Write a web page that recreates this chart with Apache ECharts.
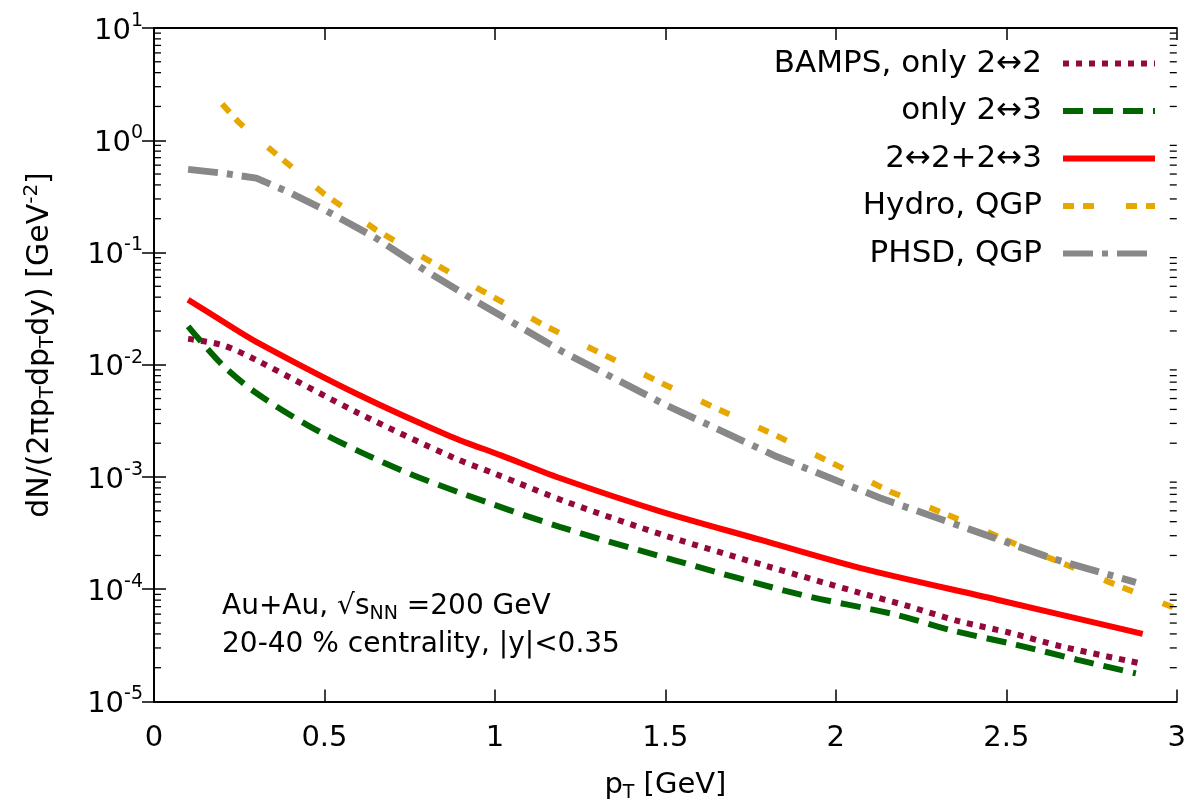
<!DOCTYPE html>
<html>
<head>
<meta charset="utf-8">
<script src="https://cdn.jsdelivr.net/npm/echarts@6/dist/echarts.min.js"></script>
<style>
  html, body { margin: 0; padding: 0; background: #fff; }
  #chart { width: 1189px; height: 808px; }
</style>
</head>
<body>
<div id="chart"></div>
<script>
{
    var dom = document.querySelector('#chart');
    var myChart = echarts.init(dom);

    // pT [GeV] and dN/(2pi pT dpT dy) values
    const ptBamps22 = [0.1, 0.2, 0.3, 0.6, 0.88, 1.0, 1.21, 1.5, 1.8, 2.07, 2.21, 2.36, 2.51, 2.66, 2.89];
    const dnBamps22 = [0.017, 0.015, 0.011, 0.0037, 0.00148, 0.00107, 6.0e-4, 3.0e-4, 1.6e-4, 9.3e-5, 7.1e-5, 5.2e-5, 4.1e-5, 3.1e-5, 2.2e-5];

    const ptOnly23 = [0.1, 0.2, 0.3, 0.45, 0.6, 0.75, 0.9, 1.19, 1.53, 1.9, 2.17, 2.34, 2.53, 2.71, 2.88];
    const dnOnly23 = [0.022, 0.010, 0.0056, 0.0029, 0.0017, 0.00107, 7.2e-4, 3.6e-4, 1.8e-4, 8.9e-5, 6.0e-5, 4.3e-5, 3.2e-5, 2.35e-5, 1.78e-5];

    const ptBoth = [0.1, 0.2, 0.3, 0.6, 0.87, 1.02, 1.19, 1.48, 1.78, 2.07, 2.47, 2.9];
    const dnBoth = [0.038, 0.0245, 0.016, 0.0054, 0.0023, 0.00155, 9.8e-4, 5.0e-4, 2.75e-4, 1.55e-4, 8.1e-5, 4.0e-5];

    const ptHydro = [0.2, 0.25, 0.35, 0.5, 0.65, 0.8, 0.96, 1.15, 1.5, 1.83, 2.16, 2.36, 2.53, 2.71, 2.88, 3.0];
    const dnHydro = [2.1, 1.43, 0.79, 0.33, 0.16, 0.087, 0.046, 0.022, 0.0066, 0.0023, 7.4e-4, 4.2e-4, 2.5e-4, 1.5e-4, 9.3e-5, 6.7e-5];

    const ptPhsd = [0.1, 0.2, 0.3, 0.4, 0.5, 0.65, 0.8, 0.95, 1.2, 1.5, 1.82, 2.13, 2.46, 2.63, 2.88];
    const dnPhsd = [0.55, 0.51, 0.46, 0.34, 0.24, 0.135, 0.068, 0.036, 0.013, 0.0044, 0.00155, 6.5e-4, 2.9e-4, 1.9e-4, 1.15e-4];

    const legendNames = ['BAMPS, only 2↔2', 'only 2↔3', '2↔2+2↔3', 'Hydro, QGP', 'PHSD, QGP'];
    const decades = [1e-5, 1e-4, 1e-3, 1e-2, 1e-1, 1, 10];
    const minorMult = [2, 3, 4, 5, 6, 7, 8, 9];

    const pairs = (xs, ys) => xs.map((x, i) => [x, ys[i]]);

    const minorTicks = [];
    decades.slice(0, -1).forEach(d => minorMult.forEach(m => minorTicks.push([0, d * m])));

    const font = 'DejaVu Sans, sans-serif';

    function lineSeries(name, xs, ys, color, type, width, smooth) {
        return {
            name: name,
            type: 'line',
            data: pairs(xs, ys),
            symbol: 'none',
            smooth: smooth,
            lineStyle: { color: color, width: width, type: type, cap: 'butt' },
            itemStyle: { color: color },
            z: 3
        };
    }

    const axisLine = { show: true, lineStyle: { color: '#000', width: 2 } };
    const axisTick = { show: true, inside: true, length: 12, lineStyle: { color: '#000', width: 1.5 } };

    const option = {
        animation: false,
        grid: { left: 154, right: 12, top: 28, bottom: 104 },
        xAxis: [
            {
                type: 'value',
                min: 0, max: 3, interval: 0.5,
                name: '{n|p}{s|T}{n| [GeV]}',
                nameLocation: 'middle',
                nameGap: 64,
                nameTextStyle: {
                    rich: {
                        n: { fontFamily: font, fontSize: 29, color: '#000', lineHeight: 40 },
                        s: { fontFamily: font, fontSize: 19, color: '#000', lineHeight: 40, padding: [16, 0, 0, 0] }
                    }
                },
                axisLine: axisLine,
                axisTick: axisTick,
                axisLabel: {
                    fontFamily: font, fontSize: 29, color: '#000', margin: 22,
                    formatter: v => String(v)
                },
                splitLine: { show: false }
            },
            {
                type: 'value', position: 'top',
                min: 0, max: 3, interval: 0.5,
                axisLine: axisLine,
                axisTick: axisTick,
                axisLabel: { show: false },
                splitLine: { show: false }
            }
        ],
        yAxis: [
            {
                type: 'log', logBase: 10,
                min: 1e-5, max: 10,
                axisLine: axisLine,
                axisTick: axisTick,
                axisLabel: {
                    margin: 11,
                    formatter: v => '{b|10}{e|' + Math.round(Math.log10(v)) + '}',
                    rich: {
                        b: { fontFamily: font, fontSize: 29, color: '#000', lineHeight: 40, padding: [6, 0, 0, 0] },
                        e: { fontFamily: font, fontSize: 19, color: '#000', lineHeight: 40, padding: [0, 0, 14, 0] }
                    }
                },
                splitLine: { show: false }
            },
            {
                type: 'log', logBase: 10, position: 'right',
                min: 1e-5, max: 10,
                axisLine: axisLine,
                axisTick: axisTick,
                axisLabel: { show: false },
                splitLine: { show: false }
            }
        ],
        legend: {
            orient: 'vertical',
            right: 26,
            top: 43,
            align: 'right',
            itemWidth: 92,
            itemHeight: 28,
            itemGap: 16.5,
            data: legendNames,
            itemStyle: { opacity: 0 },
            lineStyle: { width: 6 },
            textStyle: {
                fontFamily: font, fontSize: 31, color: '#000',
                width: 320, align: 'right', padding: [0, 16, 0, 0], lineHeight: 28
            }
        },
        graphic: [
            {
                type: 'text', x: 40, y: 345, rotation: Math.PI / 2,
                style: {
                    text: '{n|dN/(2πp}{s|T}{n|dp}{s|T}{n|dy) [GeV}{u|-2}{n|]}',
                    align: 'center', verticalAlign: 'middle',
                    rich: {
                        n: { fontFamily: font, fontSize: 30, fill: '#000', lineHeight: 44 },
                        s: { fontFamily: font, fontSize: 20, fill: '#000', lineHeight: 44, padding: [16, 0, 0, 0] },
                        u: { fontFamily: font, fontSize: 20, fill: '#000', lineHeight: 44, padding: [0, 0, 16, 0] }
                    }
                }
            },
            {
                type: 'text', x: 222, y: 607,
                style: {
                    text: '{n|Au+Au, √s}{s|NN}{n| =200 GeV}',
                    verticalAlign: 'middle',
                    rich: {
                        n: { fontFamily: font, fontSize: 28, fill: '#000', lineHeight: 40 },
                        s: { fontFamily: font, fontSize: 19, fill: '#000', lineHeight: 40, padding: [14, 0, 0, 0] }
                    }
                }
            },
            {
                type: 'text', x: 222, y: 645,
                style: {
                    text: '20-40 % centrality, |y|<0.35', verticalAlign: 'middle',
                    fontFamily: font, fontSize: 28, fill: '#000'
                }
            }
        ],
        series: [
            lineSeries(legendNames[0], ptBamps22, dnBamps22, '#94083c', [6, 7], 6, 0.3),
            lineSeries(legendNames[1], ptOnly23, dnOnly23, '#006400', [20, 10], 6, 0.3),
            lineSeries(legendNames[2], ptBoth, dnBoth, '#ff0000', 'solid', 6, 0.3),
            lineSeries(legendNames[3], ptHydro, dnHydro, '#e6a800', [11, 9, 11, 32], 6, false),
            lineSeries(legendNames[4], ptPhsd, dnPhsd, '#888888', [30, 9, 6, 9], 7, false),
            {
                type: 'custom',
                data: minorTicks,
                silent: true,
                z: 4,
                renderItem: function (params, api) {
                    const v = api.value(1);
                    const l = api.coord([0, v]);
                    const r = api.coord([3, v]);
                    const st = { stroke: '#000', lineWidth: 1.3 };
                    return {
                        type: 'group',
                        children: [
                            { type: 'line', shape: { x1: l[0], y1: l[1], x2: l[0] + 7, y2: l[1] }, style: st },
                            { type: 'line', shape: { x1: r[0] - 7, y1: r[1], x2: r[0], y2: r[1] }, style: st }
                        ]
                    };
                }
            }
        ]
    };
    myChart.setOption(option);
}
</script>
</body>
</html>
